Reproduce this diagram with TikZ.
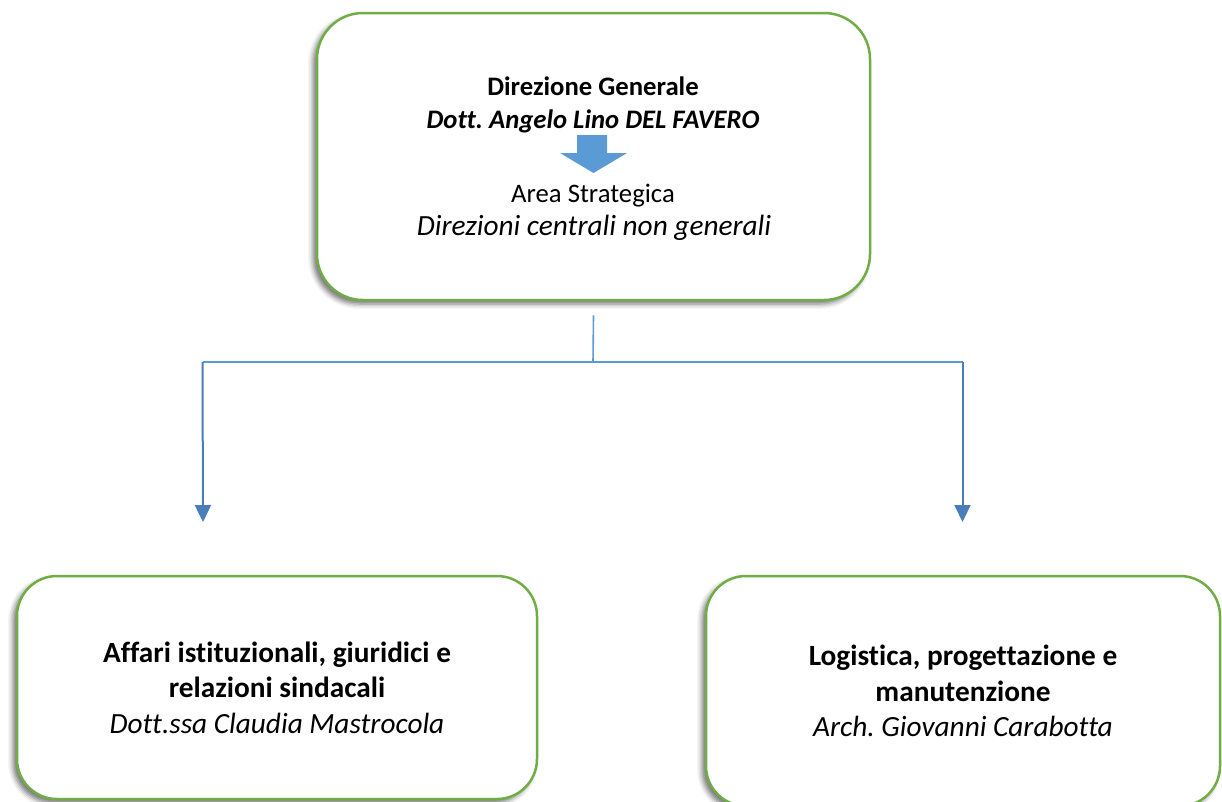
\documentclass[tikz,border=0pt]{standalone}
\usepackage{fontspec}
\setmainfont{Carlito}[Ligatures={NoCommon}]
\usetikzlibrary{shadows.blur,arrows.meta}

\definecolor{boxgreen}{HTML}{70AD47}
\definecolor{blockblue}{HTML}{5B9BD5}
\definecolor{feedblue}{HTML}{5B9BD5}
\definecolor{linkblue}{HTML}{4A7EBB}

\begin{document}
\frenchspacing
\begin{tikzpicture}[x=1pt,y=-1pt,
  softshadow/.style={blur shadow={shadow xshift=-4pt,shadow yshift=-4pt,
      shadow blur radius=5pt,shadow opacity=55}},
  topbox/.style={draw=boxgreen,line width=2.5pt,fill=white,
      rounded corners=46pt,softshadow,inner sep=0pt},
  subbox/.style={draw=boxgreen,line width=2.5pt,fill=white,
      rounded corners=40pt,softshadow,align=center,
      font=\fontsize{29.3}{35.6}\selectfont},
  topline/.style={anchor=base,inner sep=0pt,
      font=\fontsize{26.7}{33}\selectfont},
  feed/.style={draw=feedblue,line width=1.6pt},
  link/.style={draw=linkblue,line width=2pt,
      -{Triangle[width=16pt,length=17pt]}}]

\useasboundingbox (0,0) rectangle (1222,801);

% top unit: Direzione Generale
\node[topbox,minimum width=553pt,minimum height=287pt] (dg) at (593.5,156.5) {};
\node[topline,font=\fontsize{26.7}{33}\selectfont\bfseries] (dgtitle) at (593,95) {Direzione Generale};
\node[topline,font=\fontsize{26.7}{33}\selectfont\bfseries\itshape] (dgname) at (593,128) {Dott. Angelo Lino DEL FAVERO};
\node[topline] (area) at (593,202) {Area Strategica};
\node[topline,font=\fontsize{29.3}{35.6}\selectfont\itshape] (areasub) at (594,235) {Direzioni centrali non generali};

% block arrow between the two groups of lines
\fill[blockblue] (577,135) -- (607,135) -- (607,153) -- (627,153)
  -- (593.5,173) -- (560,153) -- (577,153) -- cycle;

% lower units
\node[subbox,minimum width=520pt,minimum height=223pt] (aff) at (277,687.5)
  {\textbf{Affari istituzionali, giuridici e}\\
   \textbf{relazioni sindacali}\\
   \textit{Dott.ssa Claudia Mastrocola}};
\node[subbox,minimum width=514pt,minimum height=230pt] (log) at (963,691)
  {\textbf{Logistica, progettazione e}\\
   \textbf{manutenzione}\\
   \textit{Arch. Giovanni Carabotta}};

% connectors
\coordinate (split) at (593,362);
\coordinate (lcorner) at (202.5,362);
\coordinate (rcorner) at (962.5,362);
\coordinate (ltip) at (203,522);
\coordinate (rtip) at (962.5,522);

\draw[feed] ([yshift=-14pt]dg.south) -- (split);
\draw[feed] (lcorner) -- (rcorner);
\draw[link] (lcorner) -- (ltip);
\draw[link] (rcorner) -- (rtip);

\end{tikzpicture}
\end{document}
